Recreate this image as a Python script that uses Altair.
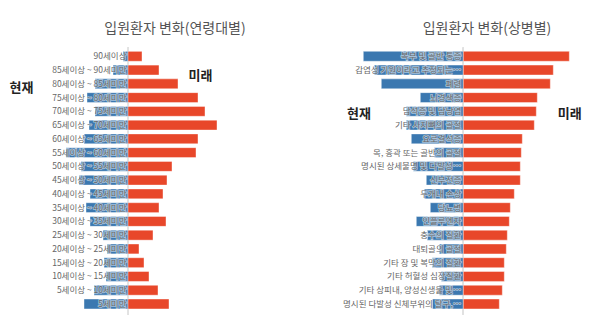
import altair as alt
import pandas as pd

FONT = "Noto Sans CJK KR"
BLUE = "#3b78b0"
RED = "#e8472a"

age_groups = ["90세이상", "85세이상 ~ 90세미만", "80세이상 ~ 85세미만", "75세이상 ~ 80세미만",
              "70세이상 ~ 75세미만", "65세이상 ~ 70세미만", "60세이상 ~ 65세미만", "55세이상 ~ 60세미만",
              "50세이상 ~ 55세미만", "45세이상 ~ 50세미만", "40세이상 ~ 45세미만", "35세이상 ~ 40세미만",
              "30세이상 ~ 35세미만", "25세이상 ~ 30세미만", "20세이상 ~ 25세미만", "15세이상 ~ 20세미만",
              "10세이상 ~ 15세미만", "5세이상 ~ 10세미만", "5세미만"]
age_current = [5, 15, 33, 41, 33, 39, 44, 62, 47, 49, 38, 42, 38, 25, 21, 24, 22, 34, 44]
age_future = [14, 31, 50, 70, 77, 89, 70, 68, 44, 39, 35, 31, 38, 25, 11, 16, 21, 30, 41]

disease_names = ["복부 및 골반 통증", "감염성 기원이라고 추정되는…", "폐렴", "뇌경색증", "담석증 및 담낭염",
                 "기타 사지뼈의 골절", "요로결석증", "목, 흉곽 또는 골반의 골절", "명시된 상세불명 및 다발성…",
                 "신부전증", "두개내 손상", "당뇨병", "인플루엔자", "충수의 질환", "대퇴골의 골절",
                 "기타 장 및 복막의 질환", "기타 허혈성 심장질환", "기타 상피내, 양성신생물 및…",
                 "명시된 다발성 신체부위의 탈구,…"]
disease_current = [100, 89, 82, 43, 57, 57, 52, 29, 50, 37, 39, 33, 47, 36, 24, 31, 22, 24, 31]
disease_future = [106, 90, 87, 74, 73, 71, 59, 58, 57, 57, 51, 47, 46, 44, 43, 41, 41, 39, 36]

titles = ["입원환자 변화(연령대별)", "입원환자 변화(상병별)"]
side_labels = ["현재", "미래"]

TOP = 42
H = 336 - TOP
STEP = 13.76
N = 19
Y0 = 56.3 - TOP - STEP / 2


def panel(cats, cur, fut, title, dom, title_dx, lab_x, lab_size, now_pos, fut_pos):
    df = pd.DataFrame({"cat": cats, "cur": cur, "fut": fut})
    base = alt.Chart(df).transform_calculate(neg="-datum.cur", zero="0", lx=str(lab_x))
    xs = alt.Scale(domain=dom, nice=False, zero=False)
    ys = alt.Scale(domain=cats, range=[Y0, Y0 + N * STEP], paddingInner=0.28, paddingOuter=0.14)
    y = alt.Y("cat:N", scale=ys, axis=None, sort=cats)

    rule = base.mark_rule(color="#e2e2e2", strokeWidth=1).encode(
        x=alt.X("zero:Q", scale=xs, axis=None), y=alt.value(Y0 - 2), y2=alt.value(Y0 + N * STEP + 4)
    )
    blue = base.mark_bar(
        color=BLUE, stroke="white", strokeOpacity=0.4, strokeWidth=1
    ).encode(x=alt.X("neg:Q", scale=xs, axis=None), x2="zero:Q", y=y)
    red = base.mark_bar(
        color=RED, stroke="white", strokeOpacity=0.4, strokeWidth=1
    ).encode(x=alt.X("fut:Q", scale=xs, axis=None), x2="zero:Q", y=y)
    halo = base.mark_text(
        align="right", baseline="middle", font=FONT, fontSize=lab_size, color="white",
        stroke="white", strokeWidth=1.6, opacity=0.55
    ).encode(x=alt.X("lx:Q", scale=xs, axis=None), y=y, text="cat:N")
    txt = base.mark_text(
        align="right", baseline="middle", font=FONT, fontSize=lab_size, color="#666666"
    ).encode(x=alt.X("lx:Q", scale=xs, axis=None), y=y, text="cat:N")

    sdf = pd.DataFrame({"t": side_labels,
                        "px": [now_pos[0] + dom[0], fut_pos[0] + dom[0]],
                        "py": [now_pos[1] - TOP, fut_pos[1] - TOP]})
    side_now = alt.Chart(sdf.iloc[[0]]).mark_text(
        font=FONT, fontSize=13, fontWeight="bold", color="#222222", align="center", baseline="middle"
    ).encode(
        x=alt.X("px:Q", scale=xs, axis=None),
        y=alt.value(float(sdf.py[0])),
        text="t:N",
    )
    side_fut = alt.Chart(sdf.iloc[[1]]).mark_text(
        font=FONT, fontSize=13, fontWeight="bold", color="#222222", align="center", baseline="middle"
    ).encode(
        x=alt.X("px:Q", scale=xs, axis=None),
        y=alt.value(float(sdf.py[1])),
        text="t:N",
    )
    return alt.layer(rule, blue, red, halo, txt, side_now, side_fut).properties(
        width=300, height=H,
        title=alt.Title(title, font=FONT, fontSize=14, fontWeight="normal", color="#555555",
                        anchor="middle", dx=title_dx, offset=6),
    )


left = panel(age_groups, age_current, age_future, titles[0], [-128, 172], 25, -1.5, 8.5,
             (21.5, 88), (200.5, 76))
right = panel(disease_names, disease_current, disease_future, titles[1], [-163.3, 136.7], 37, -2, 8.5,
              (59, 114), (269.7, 114))

chart = alt.hconcat(left, right, spacing=0).properties(
    padding={"top": 22, "left": 0, "right": 0, "bottom": 0},
    background="white",
).configure_view(strokeWidth=0, stroke="transparent")

chart.save("out.html", embed_options={"renderer": "svg", "actions": False})
